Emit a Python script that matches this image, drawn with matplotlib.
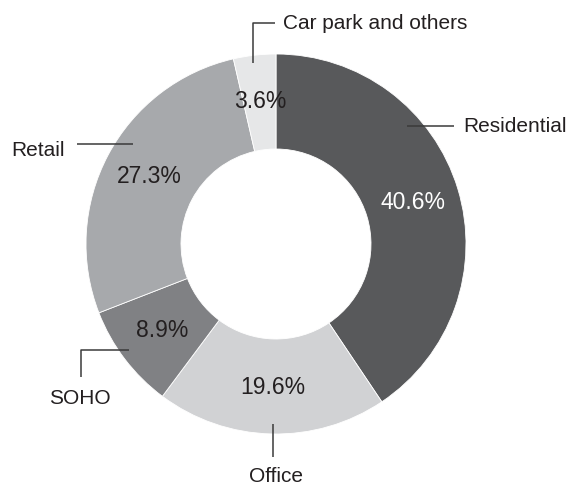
import matplotlib.pyplot as plt
import numpy as np

plt.rcParams['font.family'] = ['Liberation Sans', 'DejaVu Sans']

# Share of floor area by use
categories = ['Residential', 'Office', 'SOHO', 'Retail', 'Car park and others']
shares = [40.6, 19.6, 8.9, 27.3, 3.6]
colors = ['#58595b', '#d1d2d4', '#808184', '#a7a9ac', '#e6e7e8']
pct_colors = ['white', '#231f20', '#231f20', '#231f20', '#231f20']

fig = plt.figure(figsize=(5.67, 4.86), dpi=100)
ax = fig.add_axes([0, 0, 1, 1])

center = (276, 242)
radius = 190

wedges, texts, autotexts = ax.pie(
    shares, colors=colors, startangle=90, counterclock=False,
    center=center, radius=radius, autopct='%1.1f%%', pctdistance=0.755,
    wedgeprops=dict(width=radius * 0.5, edgecolor='white', linewidth=0.6),
    textprops=dict(fontsize=16.5))
for t, c in zip(autotexts, pct_colors):
    t.set_color(c)

# pie() resets the limits, so set the canvas afterwards
ax.set_xlim(0, 567)
ax.set_ylim(0, 486)
ax.set_aspect('equal')
ax.axis('off')

line_kw = dict(color='#3a3a3a', lw=1.1, solid_capstyle='butt')
lab_kw = dict(fontsize=15, color='#231f20')

def to_data(pts):
    # leader paths are laid out in pixel rows measured from the top edge
    xs = [p[0] for p in pts]
    ys = [486 - p[1] for p in pts]
    return xs, ys

# Residential
ax.plot(*to_data([(407, 126), (454, 126)]), **line_kw)
ax.text(463, 486 - 127, categories[0], ha='left', va='center', **lab_kw)

# Office
ax.plot(*to_data([(273, 424), (273, 457)]), **line_kw)
ax.text(276, 486 - 477, categories[1], ha='center', va='center', **lab_kw)

# SOHO
ax.plot(*to_data([(129, 350), (81, 350), (81, 377)]), **line_kw)
ax.text(80, 486 - 398, categories[2], ha='center', va='center', **lab_kw)

# Retail
ax.plot(*to_data([(77, 144), (133, 144)]), **line_kw)
ax.text(11, 486 - 150, categories[3], ha='left', va='center', **lab_kw)

# Car park and others
ax.plot(*to_data([(253, 63), (253, 23), (275, 23)]), **line_kw)
ax.text(283, 486 - 24, categories[4], ha='left', va='center', **lab_kw)

fig.savefig('out.png', dpi=100, facecolor='white')
